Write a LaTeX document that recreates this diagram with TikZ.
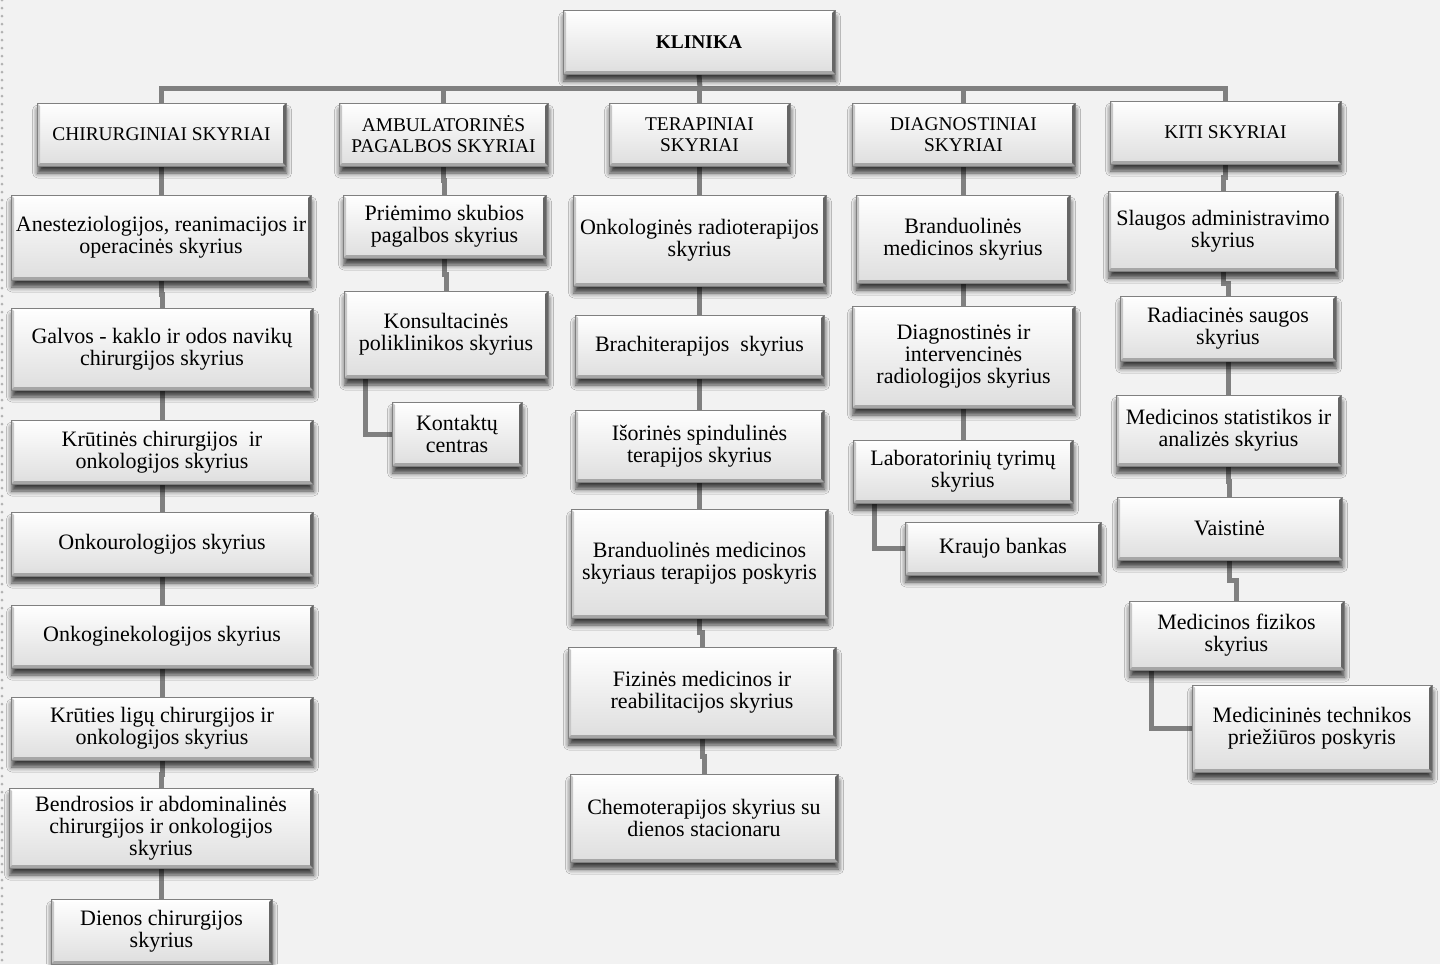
\documentclass[tikz,border=0pt]{standalone}
\usepackage{fontspec}
\setmainfont{Liberation Serif}
\usetikzlibrary{calc,shadows.blur,backgrounds}
\newcommand\bx[6]{\node[box, minimum width={(#4-#2)*0.5pt}, minimum height={(#5-#3)*0.5pt}] (#1) at ({(#2+#4)/2},{(#3+#5)/2}) {#6};}
\newcommand\hx[6]{\node[box, hdr, minimum width={(#4-#2)*0.5pt}, minimum height={(#5-#3)*0.5pt}] (#1) at ({(#2+#4)/2},{(#3+#5)/2}) {#6};}
\newcommand\lnk[2]{\draw[conn] (#1.south) |- ($(#1.south)!.5!(#2.north)$) -| (#2.north);}
\definecolor{bgcol}{HTML}{F2F2F2}
\definecolor{conncol}{HTML}{808080}
\tikzset{
  box/.style={draw=black!50, line width=0.4pt, shading=axis, top color=white, bottom color=black!13,
    inner sep=0pt, align=center, font=\fontsize{11}{11}\selectfont,
    blur shadow={shadow xshift=0.3pt, shadow yshift=-3.5pt, shadow blur radius=2.5pt, shadow opacity=75},
    path picture={
      \fill[white] (path picture bounding box.north west) -- (path picture bounding box.north east)
        -- ([xshift=-1.5pt,yshift=-1.5pt]path picture bounding box.north east)
        -- ([xshift=1.5pt,yshift=-1.5pt]path picture bounding box.north west) -- cycle;
      \fill[black!22] (path picture bounding box.south west) -- (path picture bounding box.north west)
        -- ([xshift=1.5pt,yshift=-1.5pt]path picture bounding box.north west)
        -- ([xshift=1.5pt,yshift=1.5pt]path picture bounding box.south west) -- cycle;
      \fill[black!35] (path picture bounding box.south east) -- (path picture bounding box.south west)
        -- ([xshift=1.5pt,yshift=1.5pt]path picture bounding box.south west)
        -- ([xshift=-1.5pt,yshift=1.5pt]path picture bounding box.south east) -- cycle;
      \fill[black!60] (path picture bounding box.north east) -- (path picture bounding box.south east)
        -- ([xshift=-1.5pt,yshift=1.5pt]path picture bounding box.south east)
        -- ([xshift=-1.5pt,yshift=-1.5pt]path picture bounding box.north east) -- cycle;
    }},
  hdr/.style={font=\fontsize{9.7}{10.5}\selectfont},
  conn/.style={draw=conncol, line width=2.5pt}
}
\begin{document}
\begin{tikzpicture}[x=0.5pt,y=-0.5pt]
\useasboundingbox (0,0) rectangle (1440,964);
% top
\hx{klinika}{563}{10}{835}{74}{\textbf{KLINIKA}}
\hx{chir}{37}{103}{286}{166}{CHIRURGINIAI SKYRIAI}
\hx{amb}{339}{103}{548}{166}{AMBULATORINĖS\\PAGALBOS SKYRIAI}
\hx{ter}{609}{103}{790}{166}{TERAPINIAI\\SKYRIAI}
\hx{diag}{852}{103}{1075}{166}{DIAGNOSTINIAI\\SKYRIAI}
\hx{kiti}{1110}{101}{1341}{164}{KITI SKYRIAI}
% column 1
\bx{c1}{11}{195}{311}{280}{Anesteziologijos, reanimacijos ir\\operacinės skyrius}
\bx{c2}{11}{308}{313}{390}{Galvos - kaklo ir odos navikų\\chirurgijos skyrius}
\bx{c3}{11}{420}{313}{484}{Krūtinės chirurgijos\ \ ir\\onkologijos skyrius}
\bx{c4}{11}{512}{313}{576}{Onkourologijos skyrius}
\bx{c5}{11}{605}{313}{668}{Onkoginekologijos skyrius}
\bx{c6}{11}{697}{313}{760}{Krūties ligų chirurgijos ir\\onkologijos skyrius}
\bx{c7}{9}{788}{313}{868}{Bendrosios ir abdominalinės\\chirurgijos ir onkologijos\\skyrius}
\bx{c8}{51}{899}{272}{964}{Dienos chirurgijos\\skyrius}
% column 2
\bx{a1}{343}{195}{546}{258}{Priėmimo skubios\\pagalbos skyrius}
\bx{a2}{344}{291}{548}{378}{Konsultacinės\\poliklinikos skyrius}
\bx{a3}{392}{402}{522}{466}{Kontaktų\\centras}
% column 3
\bx{t1}{573}{195}{826}{286}{Onkologinės radioterapijos\\skyrius}
\bx{t2}{575}{315}{824}{378}{Brachiterapijos\ \ skyrius}
\bx{t3}{575}{410}{824}{482}{Išorinės spindulinės\\terapijos skyrius}
\bx{t4}{571}{509}{828}{618}{Branduolinės medicinos\\skyriaus terapijos poskyris}
\bx{t5}{568}{647}{836}{738}{Fizinės medicinos ir\\reabilitacijos skyrius}
\bx{t6}{570}{774}{838}{862}{Chemoterapijos skyrius su\\dienos stacionaru}
% column 4
\bx{d1}{856}{195}{1070}{283}{Branduolinės\\medicinos skyrius}
\bx{d2}{852}{306}{1075}{408}{Diagnostinės ir\\intervencinės\\radiologijos skyrius}
\bx{d3}{853}{440}{1073}{503}{Laboratorinių tyrimų\\skyrius}
\bx{d4}{905}{522}{1101}{575}{Kraujo bankas}
% column 5
\bx{k1}{1108}{191}{1338}{271}{Slaugos administravimo\\skyrius}
\bx{k2}{1120}{296}{1336}{361}{Radiacinės saugos\\skyrius}
\bx{k3}{1116}{395}{1341}{466}{Medicinos statistikos ir\\analizės skyrius}
\bx{k4}{1117}{497}{1342}{560}{Vaistinė}
\bx{k5}{1129}{601}{1344}{670}{Medicinos fizikos\\skyrius}
\bx{k6}{1192}{685}{1432}{772}{Medicininės technikos\\priežiūros poskyris}
\begin{pgfonlayer}{background}
\fill[bgcol] (0,0) rectangle (1440,964);
\draw[black!30, line width=1.5pt, line cap=round, dash pattern=on 0pt off 4pt] (2,0) -- (2,964);
\coordinate (bus) at (700,88);
\draw[conn] (klinika.south) -- (bus);
\draw[conn] (chir.north) |- (bus) -| (kiti.north);
\draw[conn] (bus) -| (amb.north);
\draw[conn] (bus) -| (ter.north);
\draw[conn] (bus) -| (diag.north);
\lnk{chir}{c1}\lnk{c1}{c2}\lnk{c2}{c3}\lnk{c3}{c4}\lnk{c4}{c5}\lnk{c5}{c6}\lnk{c6}{c7}\lnk{c7}{c8}
\lnk{amb}{a1}\lnk{a1}{a2}
\draw[conn] ([xshift=11pt]a2.south west) |- (a3.west);
\lnk{ter}{t1}\lnk{t1}{t2}\lnk{t2}{t3}\lnk{t3}{t4}\lnk{t4}{t5}\lnk{t5}{t6}
\lnk{diag}{d1}\lnk{d1}{d2}\lnk{d2}{d3}
\draw[conn] ([xshift=11pt]d3.south west) |- (d4.west);
\lnk{kiti}{k1}\lnk{k1}{k2}\lnk{k2}{k3}\lnk{k3}{k4}\lnk{k4}{k5}
\draw[conn] ([xshift=11.5pt]k5.south west) |- (k6.west);
\end{pgfonlayer}
\end{tikzpicture}
\end{document}
